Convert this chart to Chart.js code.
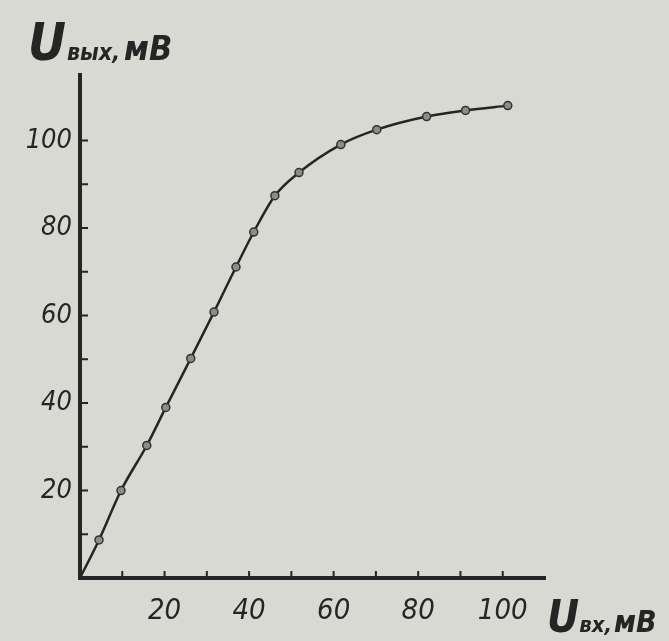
<!DOCTYPE html>
<html>
<head>
<meta charset="utf-8">
<script src="https://cdn.jsdelivr.net/npm/chart.js@4/dist/chart.umd.min.js"></script>
<style>
	html, body { margin: 0; padding: 0; background: #d9d9d4; }
	#wrap { width: 669px; height: 641px; }
</style>
</head>
<body>
<div id="wrap"><canvas id="chart" width="669" height="641"></canvas></div>
<script>
// Input voltage, mV (x) and output voltage, mV (y).
const uIn  = [0, 4.5, 9.7, 15.8, 20.3, 26.2, 31.7, 36.9, 41.1, 46.1, 51.8, 61.7, 70.2, 82, 91.2, 101.2];
const uOut = [0, 8.7, 20, 30.3, 39, 50.2, 60.8, 71.1, 79.1, 87.4, 92.7, 99.1, 102.5, 105.5, 106.9, 108];
const xTickLabels = [20, 40, 60, 80, 100];
const yTickLabels = [20, 40, 60, 80, 100];

const ink = '#252525';
const labelFont = '"DejaVu Sans Condensed", "DejaVu Sans", sans-serif';

// Paper-coloured background.
const paperPlugin = {
	id: 'paper',
	beforeDraw( chart ) {
		const ctx = chart.ctx;
		ctx.save();
		ctx.fillStyle = '#d9d9d4';
		ctx.fillRect( 0, 0, chart.width, chart.height );
		ctx.restore();
	}
};

// Short ticks drawn inwards from the axis lines (x only up to 100).
const innerTicksPlugin = {
	id: 'innerTicks',
	afterDraw( chart ) {
		const ctx = chart.ctx;
		const area = chart.chartArea;
		const xs = chart.scales.x, ys = chart.scales.y;
		ctx.save();
		ctx.strokeStyle = ink;
		ctx.lineWidth = 2;
		ctx.beginPath();
		xs.ticks.forEach( t => {
			if ( t.value <= 0 || t.value > 100 || t.value % 10 !== 0 ) return;
			const px = xs.getPixelForValue( t.value );
			ctx.moveTo( px, area.bottom );
			ctx.lineTo( px, area.bottom - 7 );
		} );
		ys.ticks.forEach( t => {
			if ( t.value <= 0 || t.value % 10 !== 0 ) return;
			const py = ys.getPixelForValue( t.value );
			ctx.moveTo( area.left, py );
			ctx.lineTo( area.left + 8, py );
		} );
		ctx.stroke();
		ctx.restore();
	}
};

// Axis captions "Uвых, мВ" and "Uвх, мВ".
function drawCaption( ctx, x, y, parts ) {
	parts.forEach( p => {
		ctx.font = 'italic bold ' + p.size + 'px ' + labelFont;
		ctx.fillText( p.text, x, y + ( p.dy || 0 ) );
		x += ctx.measureText( p.text ).width + ( p.gap || 0 );
	} );
}
const captionPlugin = {
	id: 'captions',
	afterDraw( chart ) {
		const ctx = chart.ctx;
		ctx.save();
		ctx.fillStyle = ink;
		ctx.textBaseline = 'alphabetic';
		drawCaption( ctx, 28, 60, [
			{ text: 'U', size: 52, gap: 1 },
			{ text: 'вых,', size: 23, gap: 4 },
			{ text: 'мВ', size: 34 }
		] );
		drawCaption( ctx, 547, 632, [
			{ text: 'U', size: 44, gap: 0 },
			{ text: 'вх,', size: 22, gap: 2 },
			{ text: 'мВ', size: 30 }
		] );
		ctx.restore();
	}
};

new Chart( document.getElementById( 'chart' ), {
	type: 'line',
	data: {
		datasets: [ {
			data: uIn.map( ( v, i ) => ( { x: v, y: uOut[i] } ) ),
			borderColor: ink,
			borderWidth: 2.5,
			cubicInterpolationMode: 'monotone',
			pointRadius: uIn.map( v => v === 0 ? 0 : 4 ),
			pointBackgroundColor: '#8c8c88',
			pointBorderColor: '#333',
			pointBorderWidth: 1.5,
			fill: false
		} ]
	},
	options: {
		responsive: false,
		animation: false,
		layout: { padding: { top: 75, right: 124, bottom: 0, left: 0 } },
		plugins: { legend: { display: false }, tooltip: { enabled: false } },
		scales: {
			x: {
				type: 'linear',
				min: 0,
				max: 110,
				afterFit: s => { s.height = 63; },
				border: { display: true, color: ink, width: 4 },
				grid: { display: false, drawTicks: false },
				ticks: {
					stepSize: 10,
					padding: 16,
					autoSkip: false,
					maxRotation: 0,
					minRotation: 0,
					color: ink,
					font: { family: labelFont, size: 29, style: 'italic' },
					callback: v => xTickLabels.includes( v ) ? String( v ) : ''
				}
			},
			y: {
				type: 'linear',
				min: 0,
				max: 115,
				afterFit: s => { s.width = 80; },
				border: { display: true, color: ink, width: 4 },
				grid: { display: false, drawTicks: false },
				ticks: {
					stepSize: 10,
					padding: 8,
					autoSkip: false,
					color: ink,
					font: { family: labelFont, size: 27, style: 'italic' },
					callback: v => yTickLabels.includes( v ) ? String( v ) : ''
				}
			}
		}
	},
	plugins: [ paperPlugin, innerTicksPlugin, captionPlugin ]
} );
</script>
</body>
</html>
